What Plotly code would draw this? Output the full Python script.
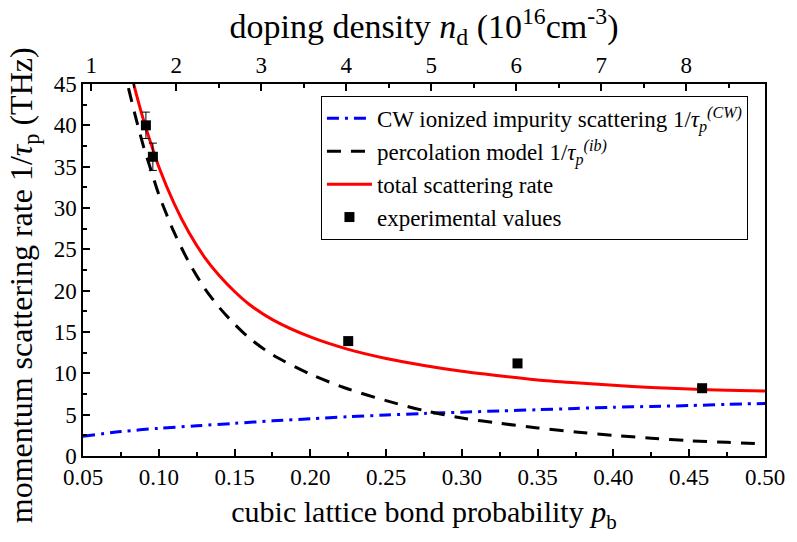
import plotly.graph_objects as go

# bond probability grid for the CW curve
p_cw = [0.05, 0.075, 0.10, 0.125, 0.15, 0.175, 0.20, 0.225, 0.25, 0.275, 0.30,
        0.325, 0.35, 0.375, 0.40, 0.425, 0.45, 0.475, 0.50]
rate_cw = [2.4, 2.95, 3.35, 3.65, 3.95, 4.25, 4.5, 4.75, 4.95, 5.15, 5.3,
           5.45, 5.6, 5.75, 5.9, 6.0, 6.1, 6.25, 6.35]

# bond probability grid for percolation model and total rate
p_model = [0.08, 0.085, 0.09, 0.095, 0.10, 0.11, 0.12, 0.13, 0.14, 0.15, 0.16, 0.175,
           0.20, 0.225, 0.25, 0.275, 0.30, 0.325, 0.35, 0.375, 0.40, 0.425, 0.45,
           0.475, 0.50]
rate_ib = [44.5, 40.8, 37.4, 34.5, 31.65, 27.1, 23.4, 20.35, 17.95, 15.95, 14.23, 12.25,
           9.9, 8.1, 6.7, 5.5, 4.6, 3.95, 3.4, 2.9, 2.5, 2.15, 1.85,
           1.65, 1.45]
rate_total = [47.5, 43.9, 40.6, 37.7, 35.0, 30.6, 27.0, 24.1, 21.8, 19.9, 18.3, 16.5,
              14.4, 12.9, 11.8, 10.95, 10.25, 9.7, 9.2, 8.85, 8.55, 8.3, 8.1,
              7.95, 7.85]

# experimental values
p_exp = [0.0915, 0.0961, 0.225, 0.3367, 0.4585]
rate_exp = [40.0, 36.2, 13.9, 11.2, 8.2]
err_exp = [1.6, 1.65, 0, 0, 0]

# top axis ticks (doping density, 1e16 cm^-3)
nd_ticks = [1, 2, 3, 4, 5, 6, 7, 8]

FONT = "Liberation Serif"

fig = go.Figure()
fig.add_trace(go.Scatter(
    x=p_cw, y=rate_cw, mode="lines", line=dict(color="#0000FF", width=3,
    dash="12px,6px,3px,6px", shape="spline", smoothing=0.8),
    name="CW ionized impurity scattering 1/<i>τ</i><sub><i>p</i></sub><sup><i>(CW)</i></sup>"))
fig.add_trace(go.Scatter(
    x=p_model, y=rate_ib, mode="lines", line=dict(color="#000000", width=3,
    dash="14px,10px", shape="spline", smoothing=0.8),
    name="percolation model 1/<i>τ</i><sub><i>p</i></sub><sup><i>(ib)</i></sup>"))
fig.add_trace(go.Scatter(
    x=p_model, y=rate_total, mode="lines", line=dict(color="#FF0000", width=3,
    shape="spline", smoothing=0.8),
    name="total scattering rate"))
fig.add_trace(go.Scatter(
    x=p_exp, y=rate_exp, mode="markers",
    marker=dict(symbol="square", size=10, color="#000000"),
    error_y=dict(type="data", array=err_exp, color="#000000", thickness=1, width=4),
    name="experimental values"))
# invisible trace to carry the top axis
fig.add_trace(go.Scatter(
    x=nd_ticks, y=[None] * len(nd_ticks), xaxis="x2", mode="markers",
    showlegend=False, hoverinfo="skip"))

axis_common = dict(
    showline=True, linecolor="black", linewidth=1.5,
    ticks="inside", ticklen=7, tickwidth=1.5, tickcolor="black",
    showgrid=False, zeroline=False,
    tickfont=dict(family=FONT, size=23, color="black"),
)

fig.update_layout(
    width=797, height=542,
    margin=dict(l=83, r=23, t=84, b=86),
    paper_bgcolor="white", plot_bgcolor="white",
    font=dict(family=FONT, color="black"),
    xaxis=dict(
        **axis_common,
        range=[0.05, 0.50], dtick=0.05, tick0=0.05, tickformat=".2f",
        minor=dict(ticks="inside", ticklen=4, tickwidth=1.5, tickcolor="black", dtick=0.025),
        title=dict(text="cubic lattice bond probability <i>p</i><sub>b</sub>",
                   font=dict(family=FONT, size=30), standoff=12),
    ),
    xaxis2=dict(
        **axis_common,
        overlaying="x", side="top",
        range=[0.9023, 8.928], dtick=1, tick0=1,
        minor=dict(ticks="inside", ticklen=4, tickwidth=1.5, tickcolor="black", dtick=0.5),
        title=dict(text="doping density <i>n</i><sub>d</sub> (10<sup>16</sup>cm<sup>-3</sup>)",
                   font=dict(family=FONT, size=34), standoff=4),
    ),
    yaxis=dict(
        **axis_common,
        range=[0, 45], dtick=5, mirror=True,
        minor=dict(ticks="inside", ticklen=4, tickwidth=1.5, tickcolor="black", dtick=2.5),
    ),
    annotations=[dict(
        text="momentum scattering rate 1/<i>τ</i><sub>p</sub> (THz)",
        xref="paper", yref="paper", x=-0.086, y=0.46,
        xanchor="center", yanchor="middle", textangle=-90, showarrow=False,
        font=dict(family=FONT, size=32, color="black"))],
    legend=dict(
        x=0.975, y=0.968, xanchor="right", yanchor="top",
        bordercolor="black", borderwidth=1, bgcolor="white",
        font=dict(family=FONT, size=23, color="black"),
        itemwidth=45, tracegroupgap=0,
    ),
    showlegend=True,
)

fig.write_html("out.html")
